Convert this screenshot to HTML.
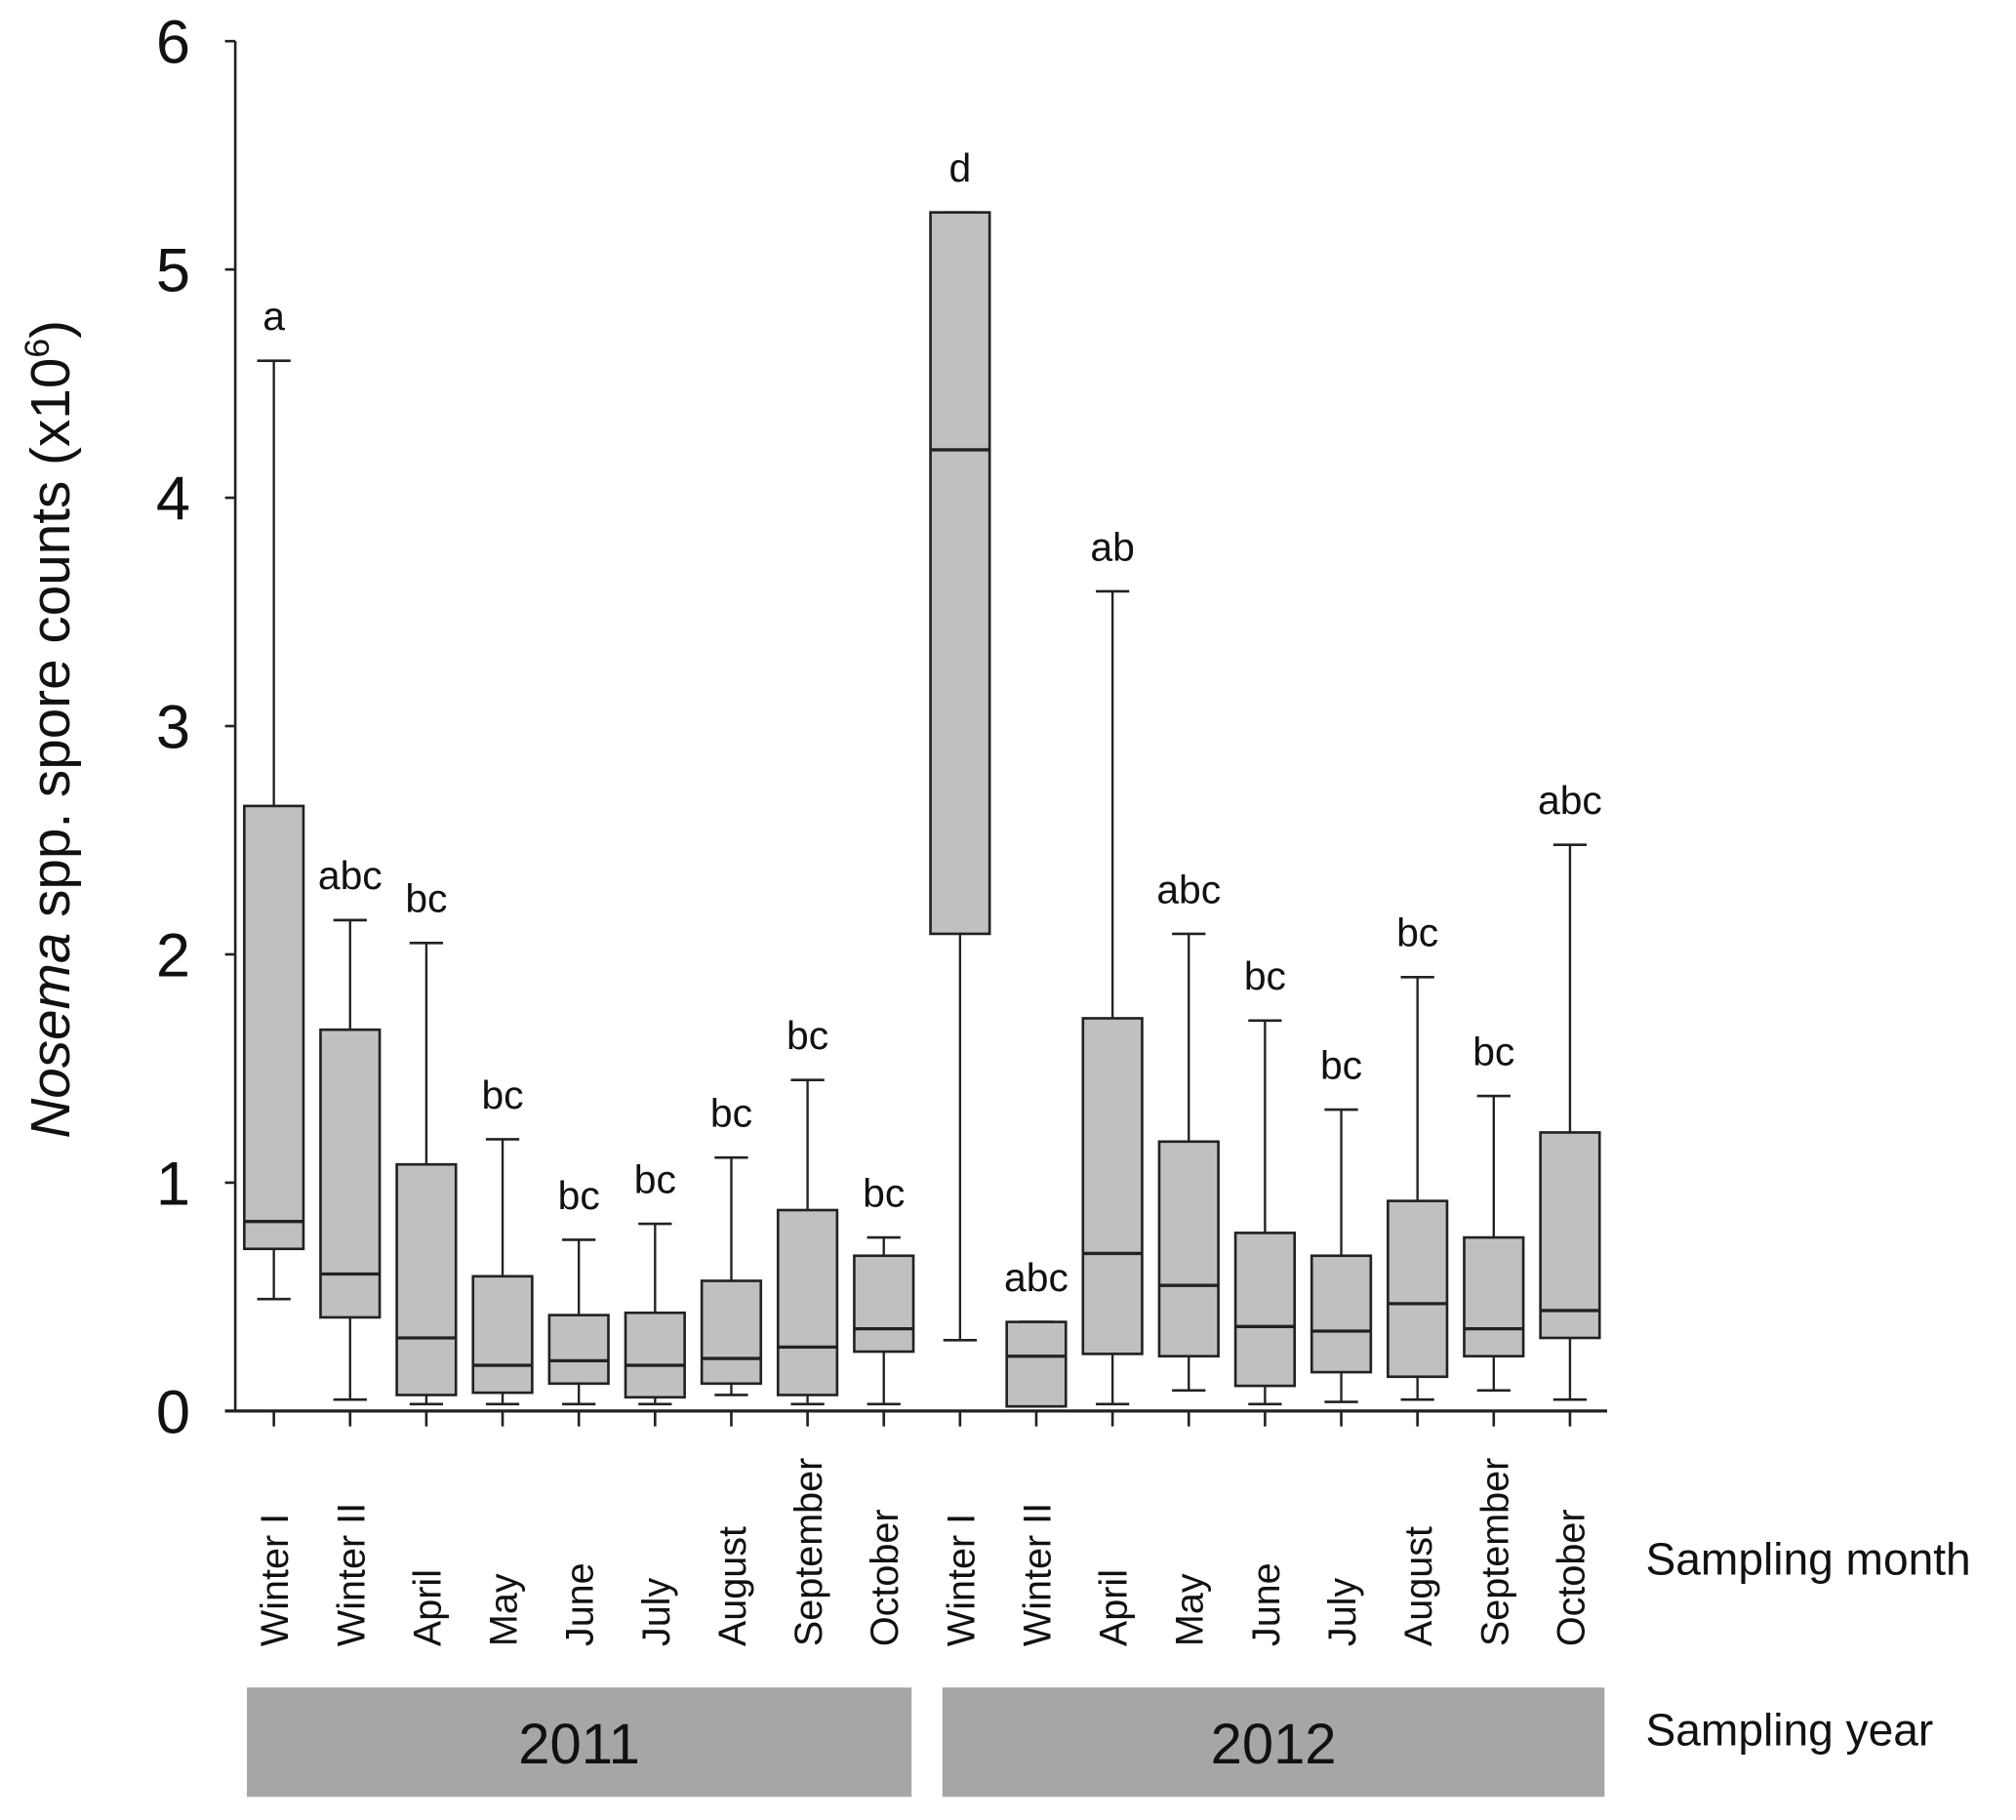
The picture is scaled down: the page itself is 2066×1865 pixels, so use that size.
<!DOCTYPE html>
<html><head><meta charset="utf-8"><style>
html,body{margin:0;padding:0;background:#fff;}
svg{display:block;font-family:"Liberation Sans",sans-serif;}
</style></head><body>
<svg id="chart" width="2066" height="1865" viewBox="0 0 1568 1415" preserveAspectRatio="none" xmlns="http://www.w3.org/2000/svg">
<g id="plot"></g>
</svg>
<script>
const categories = ["Winter I","Winter II","April","May","June","July","August","September","October","Winter I","Winter II","April","May","June","July","August","September","October"];
const whiskerHigh = [4.60,2.15,2.05,1.19,0.75,0.82,1.11,1.45,0.76,5.25,0.39,3.59,2.09,1.71,1.32,1.90,1.38,2.48];
const q3Values    = [2.65,1.67,1.08,0.59,0.42,0.43,0.57,0.88,0.68,5.25,0.39,1.72,1.18,0.78,0.68,0.92,0.76,1.22];
const medians     = [0.83,0.60,0.32,0.20,0.22,0.20,0.23,0.28,0.36,4.21,0.24,0.69,0.55,0.37,0.35,0.47,0.36,0.44];
const q1Values    = [0.71,0.41,0.07,0.08,0.12,0.06,0.12,0.07,0.26,2.09,0.02,0.25,0.24,0.11,0.17,0.15,0.24,0.32];
const whiskerLow  = [0.49,0.05,0.03,0.03,0.03,0.03,0.07,0.03,0.03,0.31,0.02,0.03,0.09,0.03,0.04,0.05,0.09,0.05];
const letters = ["a","abc","bc","bc","bc","bc","bc","bc","bc","d","abc","ab","abc","bc","bc","bc","bc","abc"];
const yTicks = [0,1,2,3,4,5,6];
const years = ["2011","2012"];

const NS="http://www.w3.org/2000/svg";
const g=document.getElementById('plot');
const Y0=1097, Y6=32, X0=183;
const y=v=>Y0-(v/6)*(Y0-Y6);
const x=i=>213+i*59.3;
function el(tag,attrs,parent){const e=document.createElementNS(NS,tag);for(const k in attrs)e.setAttribute(k,attrs[k]);(parent||g).appendChild(e);return e;}
const S="#222";
let a=el('line',{x1:X0,y1:Y6,x2:X0,y2:Y0,stroke:S,'stroke-width':2});


a=el('line',{x1:175,y1:Y0,x2:1250,y2:Y0,stroke:S,'stroke-width':2.5});


yTicks.forEach(t=>{
  el('line',{x1:175,y1:y(t),x2:X0,y2:y(t),stroke:S,'stroke-width':2});
  const tx=el('text',{x:148,y:y(t)+17,'text-anchor':'end','font-size':48,fill:'#111'});
  tx.textContent=t;
  
  
});
categories.forEach((c,i)=>{
  const cx=x(i), w=46, cap=13;
  el('line',{x1:cx,y1:Y0,x2:cx,y2:Y0+12,stroke:S,'stroke-width':2});
  el('line',{x1:cx,y1:y(whiskerHigh[i]),x2:cx,y2:y(whiskerLow[i]),stroke:S,'stroke-width':1.8});
  el('line',{x1:cx-cap,y1:y(whiskerHigh[i]),x2:cx+cap,y2:y(whiskerHigh[i]),stroke:S,'stroke-width':2});
  el('line',{x1:cx-cap,y1:y(whiskerLow[i]),x2:cx+cap,y2:y(whiskerLow[i]),stroke:S,'stroke-width':2});
  const b=el('rect',{x:cx-w/2,y:y(q3Values[i]),width:w,height:y(q1Values[i])-y(q3Values[i]),fill:'#c0c0c0',stroke:S,'stroke-width':2});
  
  
  el('line',{x1:cx-w/2,y1:y(medians[i]),x2:cx+w/2,y2:y(medians[i]),stroke:S,'stroke-width':2.5});
  const lt=el('text',{x:cx,y:y(whiskerHigh[i])-24,'text-anchor':'middle','font-size':31,fill:'#111'});
  lt.textContent=letters[i];
  
  
  const xl=el('text',{transform:`translate(${cx+11},1280) rotate(-90)`,'text-anchor':'start','font-size':30,fill:'#111'});
  xl.textContent=c;
  
  
});
years.forEach((yr,k)=>{
  const x1=k===0?192:733, x2=k===0?709:1248;
  const r=el('rect',{x:x1,y:1312,width:x2-x1,height:85,fill:'#a6a6a6'});
  
  
  const t=el('text',{x:(x1+x2)/2,y:1371,'text-anchor':'middle','font-size':44,fill:'#111'});
  t.textContent=yr;
  
  
});
let t=el('text',{x:1280,y:1224,'font-size':35,fill:'#111'});
t.textContent='Sampling month';


t=el('text',{x:1280,y:1357,'font-size':35,fill:'#111'});
t.textContent='Sampling year';


t=el('text',{transform:'translate(54,567) rotate(-90)','text-anchor':'middle','font-size':43,fill:'#111'});
t.innerHTML='<tspan font-style="italic">Nosema</tspan> spp. spore counts (x10<tspan font-size="27" dy="-16">6</tspan><tspan dy="16">)</tspan>';


</script>
</body></html>
